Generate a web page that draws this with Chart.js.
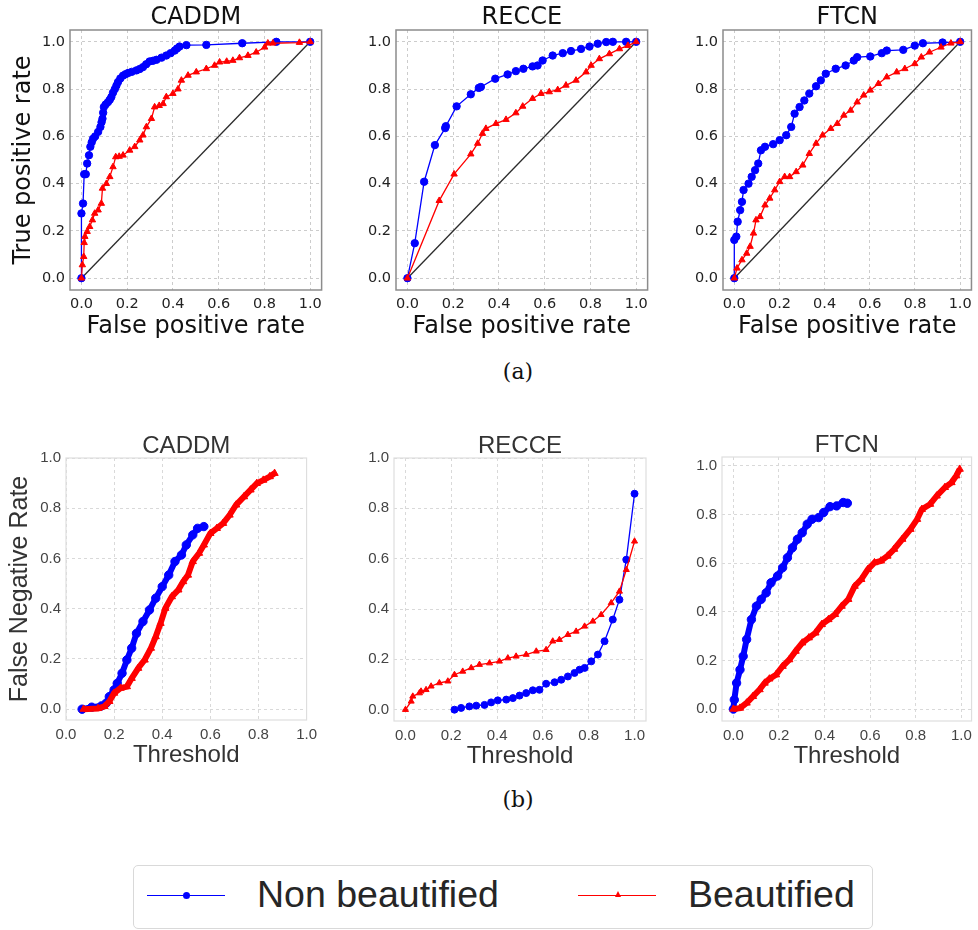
<!DOCTYPE html>
<html>
<head>
<meta charset="utf-8">
<script src="https://cdn.jsdelivr.net/npm/chart.js@4.4.1/dist/chart.umd.min.js"></script>
<style>
  body { margin: 0; background: #fff; }
  #page { position: relative; width: 978px; height: 930px; overflow: hidden; }
  canvas { position: absolute; }
  .cap { position: absolute; width: 100px; text-align: center; font-family: "DejaVu Serif", serif; font-size: 22px; line-height: 22px; color: #111; }
  #legend { position: absolute; left: 133px; top: 865px; width: 738px; height: 62px; border: 1px solid #d9d9d9; border-radius: 5px; }
  .lg-line { position: absolute; height: 1.5px; width: 78px; top: 28.5px; }
  .lg-txt { position: absolute; top: 9.5px; font-family: "Liberation Sans", Arial, sans-serif; font-size: 37.5px; line-height: 37.5px; color: #262626; white-space: nowrap; }
  .lg-dot { position: absolute; width: 7px; height: 7px; border-radius: 50%; background: #0000ff; top: 25.5px; }
  .lg-tri { position: absolute; width: 0; height: 0; border-left: 3.5px solid transparent; border-right: 3.5px solid transparent; border-bottom: 6px solid #ff0000; top: 25px; }
</style>
</head>
<body>
<div id="page">
  <canvas id="rocCaddm" width="328" height="339" style="left:0px;top:6px"></canvas>
  <canvas id="rocRecce" width="303" height="339" style="left:351px;top:6px"></canvas>
  <canvas id="rocFtcn" width="300" height="339" style="left:678px;top:6px"></canvas>
  <canvas id="fnrCaddm" width="323" height="341" style="left:0px;top:434px"></canvas>
  <canvas id="fnrRecce" width="303" height="342" style="left:349px;top:434px"></canvas>
  <canvas id="fnrFtcn" width="301" height="343" style="left:677px;top:433px"></canvas>

  <div class="cap" style="left:468px;top:361px">(a)</div>
  <div class="cap" style="left:468px;top:789px">(b)</div>

  <div id="legend">
    <div class="lg-line" style="left:13px;background:#0000ff"></div>
    <div class="lg-dot" style="left:49px"></div>
    <div class="lg-txt" style="left:123px">Non beautified</div>
    <div class="lg-line" style="left:444px;background:#ff0000"></div>
    <div class="lg-tri" style="left:480.5px"></div>
    <div class="lg-txt" style="left:554px">Beautified</div>
  </div>
</div>

<script>
// tick labels shared by every panel
const tickVals = [0, 0.2, 0.4, 0.6, 0.8, 1.0];
const diagonal = [[0, 0], [1, 1]];

// (a) ROC curves: [false positive rate, true positive rate]
const rocCaddmBlue = [[0,0],[0,0.274],[0.007,0.316],[0.012,0.44],[0.019,0.44],[0.025,0.485],[0.033,0.52],[0.039,0.556],[0.045,0.575],[0.051,0.59],[0.06,0.6],[0.073,0.619],[0.083,0.64],[0.088,0.66],[0.092,0.675],[0.095,0.7],[0.098,0.724],[0.106,0.735],[0.116,0.745],[0.124,0.755],[0.131,0.767],[0.138,0.785],[0.146,0.8],[0.153,0.815],[0.16,0.83],[0.17,0.845],[0.182,0.857],[0.193,0.863],[0.204,0.868],[0.22,0.873],[0.24,0.879],[0.255,0.885],[0.269,0.893],[0.283,0.905],[0.298,0.917],[0.313,0.92],[0.328,0.924],[0.35,0.933],[0.371,0.942],[0.39,0.952],[0.408,0.963],[0.418,0.972],[0.429,0.98],[0.459,0.986],[0.546,0.987],[0.703,0.994],[0.852,1],[1,1]];
const rocCaddmRed = [[0,0],[0.004,0.056],[0.01,0.091],[0.012,0.15],[0.015,0.176],[0.025,0.197],[0.036,0.218],[0.048,0.246],[0.058,0.274],[0.073,0.288],[0.087,0.316],[0.092,0.38],[0.109,0.4],[0.124,0.429],[0.138,0.471],[0.15,0.513],[0.165,0.515],[0.182,0.52],[0.211,0.541],[0.233,0.556],[0.255,0.584],[0.269,0.605],[0.284,0.64],[0.306,0.675],[0.32,0.724],[0.34,0.73],[0.357,0.738],[0.371,0.767],[0.4,0.781],[0.422,0.8],[0.437,0.837],[0.466,0.858],[0.502,0.872],[0.546,0.886],[0.582,0.9],[0.604,0.914],[0.635,0.917],[0.662,0.921],[0.691,0.932],[0.728,0.942],[0.764,0.956],[0.801,0.977],[0.815,0.994],[0.837,0.994],[0.953,0.997],[1,1]];
const rocRecceBlue = [[0,0],[0.032,0.148],[0.073,0.408],[0.12,0.563],[0.165,0.635],[0.168,0.643],[0.215,0.727],[0.277,0.778],[0.312,0.805],[0.321,0.809],[0.384,0.844],[0.438,0.862],[0.474,0.876],[0.507,0.886],[0.547,0.896],[0.569,0.9],[0.591,0.921],[0.635,0.942],[0.679,0.952],[0.715,0.961],[0.759,0.97],[0.796,0.98],[0.832,0.992],[0.869,0.999],[0.898,1],[0.956,1],[1,1]];
const rocRecceRed = [[0,0],[0.139,0.328],[0.204,0.44],[0.277,0.525],[0.307,0.57],[0.328,0.612],[0.343,0.633],[0.387,0.654],[0.431,0.671],[0.474,0.699],[0.504,0.727],[0.547,0.76],[0.584,0.781],[0.62,0.788],[0.657,0.797],[0.693,0.816],[0.737,0.837],[0.781,0.872],[0.803,0.9],[0.839,0.928],[0.883,0.949],[0.927,0.97],[0.964,0.984],[1,1]];
const rocFtcnBlue = [[0,0],[0,0.162],[0.009,0.176],[0.015,0.239],[0.026,0.288],[0.034,0.323],[0.041,0.373],[0.063,0.4],[0.077,0.429],[0.092,0.457],[0.106,0.485],[0.118,0.541],[0.136,0.556],[0.172,0.567],[0.201,0.584],[0.23,0.605],[0.252,0.64],[0.267,0.696],[0.289,0.724],[0.31,0.752],[0.332,0.781],[0.362,0.812],[0.383,0.837],[0.405,0.865],[0.449,0.886],[0.493,0.9],[0.529,0.921],[0.544,0.935],[0.602,0.938],[0.653,0.952],[0.675,0.963],[0.748,0.966],[0.799,0.984],[0.835,0.994],[0.922,0.997],[1,1]];
const rocFtcnRed = [[0,0],[0.012,0.042],[0.034,0.077],[0.055,0.105],[0.07,0.134],[0.085,0.19],[0.096,0.246],[0.114,0.26],[0.136,0.309],[0.157,0.338],[0.179,0.373],[0.201,0.408],[0.223,0.429],[0.245,0.429],[0.274,0.45],[0.303,0.478],[0.332,0.527],[0.362,0.57],[0.391,0.605],[0.427,0.633],[0.456,0.654],[0.485,0.689],[0.515,0.71],[0.544,0.745],[0.573,0.774],[0.602,0.795],[0.638,0.823],[0.675,0.851],[0.719,0.872],[0.755,0.886],[0.799,0.907],[0.828,0.935],[0.864,0.956],[0.915,0.977],[0.959,0.994],[1,1]];

// (b) false negative rate vs threshold: [threshold, FNR]
const fnrCaddmBlue = [[0.067,0],[0.107,0.008],[0.147,0.013],[0.167,0.024],[0.18,0.05],[0.2,0.077],[0.213,0.103],[0.233,0.143],[0.253,0.196],[0.273,0.243],[0.293,0.302],[0.32,0.349],[0.347,0.395],[0.373,0.442],[0.4,0.488],[0.427,0.534],[0.453,0.588],[0.48,0.614],[0.5,0.654],[0.527,0.694],[0.547,0.72],[0.573,0.727]];
const fnrCaddmRed = [[0.073,0],[0.133,0.003],[0.16,0.011],[0.18,0.031],[0.2,0.064],[0.227,0.084],[0.253,0.09],[0.273,0.123],[0.3,0.163],[0.327,0.196],[0.353,0.243],[0.373,0.289],[0.393,0.342],[0.413,0.402],[0.44,0.448],[0.467,0.475],[0.487,0.508],[0.507,0.534],[0.527,0.588],[0.553,0.621],[0.573,0.654],[0.6,0.7],[0.627,0.72],[0.653,0.74],[0.68,0.773],[0.707,0.813],[0.74,0.846],[0.767,0.873],[0.793,0.899],[0.82,0.912],[0.847,0.926],[0.867,0.939]];
const fnrRecceBlue = [[0.214,0],[0.243,0.007],[0.279,0.013],[0.309,0.016],[0.345,0.019],[0.374,0.029],[0.403,0.037],[0.44,0.04],[0.469,0.046],[0.498,0.056],[0.527,0.066],[0.556,0.077],[0.585,0.079],[0.614,0.103],[0.651,0.109],[0.68,0.119],[0.709,0.132],[0.738,0.146],[0.76,0.159],[0.782,0.166],[0.811,0.192],[0.84,0.219],[0.869,0.272],[0.905,0.358],[0.934,0.437],[0.964,0.596],[1,0.858]];
const fnrRecceRed = [[0,0],[0.025,0.033],[0.032,0.053],[0.061,0.066],[0.068,0.073],[0.09,0.079],[0.112,0.093],[0.148,0.106],[0.185,0.113],[0.214,0.139],[0.25,0.152],[0.287,0.166],[0.323,0.179],[0.367,0.185],[0.41,0.192],[0.447,0.205],[0.483,0.212],[0.527,0.219],[0.571,0.232],[0.614,0.238],[0.643,0.272],[0.672,0.278],[0.709,0.298],[0.745,0.311],[0.782,0.331],[0.818,0.351],[0.854,0.377],[0.898,0.424],[0.934,0.47],[0.964,0.556],[1,0.669]];
const fnrFtcnBlue = [[0,0],[0.004,0.038],[0.014,0.107],[0.029,0.162],[0.043,0.217],[0.058,0.286],[0.079,0.368],[0.101,0.423],[0.122,0.451],[0.144,0.478],[0.165,0.519],[0.194,0.547],[0.216,0.581],[0.237,0.622],[0.259,0.663],[0.281,0.698],[0.302,0.725],[0.324,0.76],[0.345,0.78],[0.374,0.787],[0.396,0.808],[0.424,0.832],[0.453,0.835],[0.482,0.849],[0.5,0.846]];
const fnrFtcnRed = [[0,0],[0.029,0.004],[0.058,0.025],[0.086,0.052],[0.115,0.08],[0.137,0.107],[0.158,0.124],[0.187,0.141],[0.216,0.176],[0.245,0.203],[0.273,0.238],[0.302,0.272],[0.331,0.293],[0.36,0.313],[0.388,0.348],[0.417,0.368],[0.446,0.389],[0.475,0.423],[0.504,0.451],[0.532,0.505],[0.561,0.533],[0.59,0.574],[0.619,0.602],[0.647,0.609],[0.676,0.629],[0.705,0.657],[0.741,0.698],[0.777,0.739],[0.806,0.78],[0.827,0.821],[0.863,0.842],[0.892,0.876],[0.928,0.911],[0.957,0.931],[0.978,0.959],[0.993,0.986]];

const BLUE = '#0000ff';
const RED = '#ff0000';

// draws the box round the plot area
const framePlugin = {
  id: 'frame',
  afterDraw(chart, args, opts) {
    const { ctx, chartArea: a } = chart;
    ctx.save();
    ctx.strokeStyle = opts.color;
    ctx.lineWidth = opts.width;
    ctx.strokeRect(a.left, a.top, a.right - a.left, a.bottom - a.top);
    ctx.restore();
  }
};

const toXY = pts => pts.map(p => ({ x: p[0], y: p[1] }));

function series(pts, color, style, lw, r) {
  return {
    data: toXY(pts),
    borderColor: color,
    backgroundColor: color,
    borderWidth: lw,
    pointStyle: style,
    pointRadius: r,
    pointBorderWidth: 1,
    pointBackgroundColor: color,
    pointBorderColor: color,
    tension: 0
  };
}

function makePanel(id, p) {
  const datasets = [];
  datasets.push(Object.assign(series(p.red, RED, 'triangle', p.lw, p.r), { order: 1 }));
  datasets.push(Object.assign(series(p.blue, BLUE, 'circle', p.lw, p.r), { order: 2 }));
  if (p.diag) {
    datasets.push({ data: toXY(diagonal), borderColor: '#2b2b2b', borderWidth: 1.3, pointRadius: 0, order: 3 });
  }
  const font = p.font;
  new Chart(document.getElementById(id), {
    type: 'line',
    data: { datasets },
    options: {
      responsive: false,
      animation: false,
      events: [],
      layout: { padding: { right: p.padR } },
      plugins: {
        legend: { display: false },
        tooltip: { enabled: false },
        title: { display: true, text: p.title, fullSize: false, color: p.titleColor,
                 font: { family: font, size: 24, weight: 'normal', lineHeight: 1 }, padding: 0 },
        frame: { color: p.frameColor, width: p.frameWidth }
      },
      scales: {
        x: {
          type: 'linear', min: p.xMin, max: p.xMax,
          afterBuildTicks: s => { s.ticks = tickVals.map(v => ({ value: v })); },
          afterFit: s => { s.height = 55; },
          grid: { color: p.gridColor, lineWidth: 1, drawTicks: false },
          border: { display: false, dash: [3, 3] },
          ticks: { color: p.tickColor, font: { family: font, size: p.tickSize }, padding: p.xTickPad,
                   maxRotation: 0, autoSkip: false, callback: v => v.toFixed(1) },
          title: { display: true, text: p.xTitle, color: p.titleColor,
                   font: { family: font, size: 24, lineHeight: 1 }, padding: { top: 0, bottom: p.xTitlePad } }
        },
        y: {
          type: 'linear', min: p.yMin, max: p.yMax,
          afterBuildTicks: s => { s.ticks = tickVals.map(v => ({ value: v })); },
          afterFit: s => { s.width = p.yW; },
          grid: { color: p.gridColor, lineWidth: 1, drawTicks: false },
          border: { display: false, dash: [3, 3] },
          ticks: { color: p.tickColor, font: { family: font, size: p.tickSize }, padding: 5,
                   autoSkip: false, callback: v => v.toFixed(1) },
          title: { display: !!p.yTitle, text: p.yTitle || '', color: p.titleColor,
                   font: { family: font, size: p.yTitleSize || 24, lineHeight: 1 }, padding: { top: p.yTitlePad || 0, bottom: 0 } }
        }
      }
    },
    plugins: [framePlugin]
  });
}

const topRow = {
  font: '"DejaVu Sans"', titleColor: '#111', tickColor: '#222', tickSize: 14.5,
  gridColor: '#cccccc', frameColor: '#8c8c8c', frameWidth: 1.5,
  xMin: -0.05, xMax: 1.05, yMin: -0.05, yMax: 1.05,
  xTitle: 'False positive rate', xTitlePad: 6, xTickPad: 6, diag: true, lw: 1.3, r: 3.7
};
const bottomRow = {
  font: '"Liberation Sans"', titleColor: '#333', tickColor: '#444', tickSize: 15,
  gridColor: '#d9d9d9', frameColor: '#dedede', frameWidth: 1.2,
  xTitle: 'Threshold', xTitlePad: 8, xTickPad: 6, diag: false
};

makePanel('rocCaddm', Object.assign({}, topRow, { title: 'CADDM', blue: rocCaddmBlue, red: rocCaddmRed,
  yW: 70, padR: 6, yTitle: 'True positive rate', yTitlePad: 12 }));
makePanel('rocRecce', Object.assign({}, topRow, { title: 'RECCE', blue: rocRecceBlue, red: rocRecceRed,
  yW: 45, padR: 6 }));
makePanel('rocFtcn', Object.assign({}, topRow, { title: 'FTCN', blue: rocFtcnBlue, red: rocFtcnRed,
  yW: 45, padR: 4 }));

makePanel('fnrCaddm', Object.assign({}, bottomRow, { title: 'CADDM', blue: fnrCaddmBlue, red: fnrCaddmRed,
  xMin: 0, xMax: 1, yMin: -0.043, yMax: 1.0, yW: 66, padR: 6, lw: 6, r: 4.2,
  yTitle: 'False Negative Rate', yTitleSize: 25, yTitlePad: 8 }));
makePanel('fnrRecce', Object.assign({}, bottomRow, { title: 'RECCE', blue: fnrRecceBlue, red: fnrRecceRed,
  xMin: -0.05, xMax: 1.05, yMin: -0.045, yMax: 1.0, yW: 45, padR: 6, lw: 1.3, r: 3.5 }));
makePanel('fnrFtcn', Object.assign({}, bottomRow, { title: 'FTCN', blue: fnrFtcnBlue, red: fnrFtcnRed,
  xMin: -0.05, xMax: 1.045, yMin: -0.049, yMax: 1.036, yW: 45, padR: 3, lw: 6, r: 4.2 }));
</script>
</body>
</html>
